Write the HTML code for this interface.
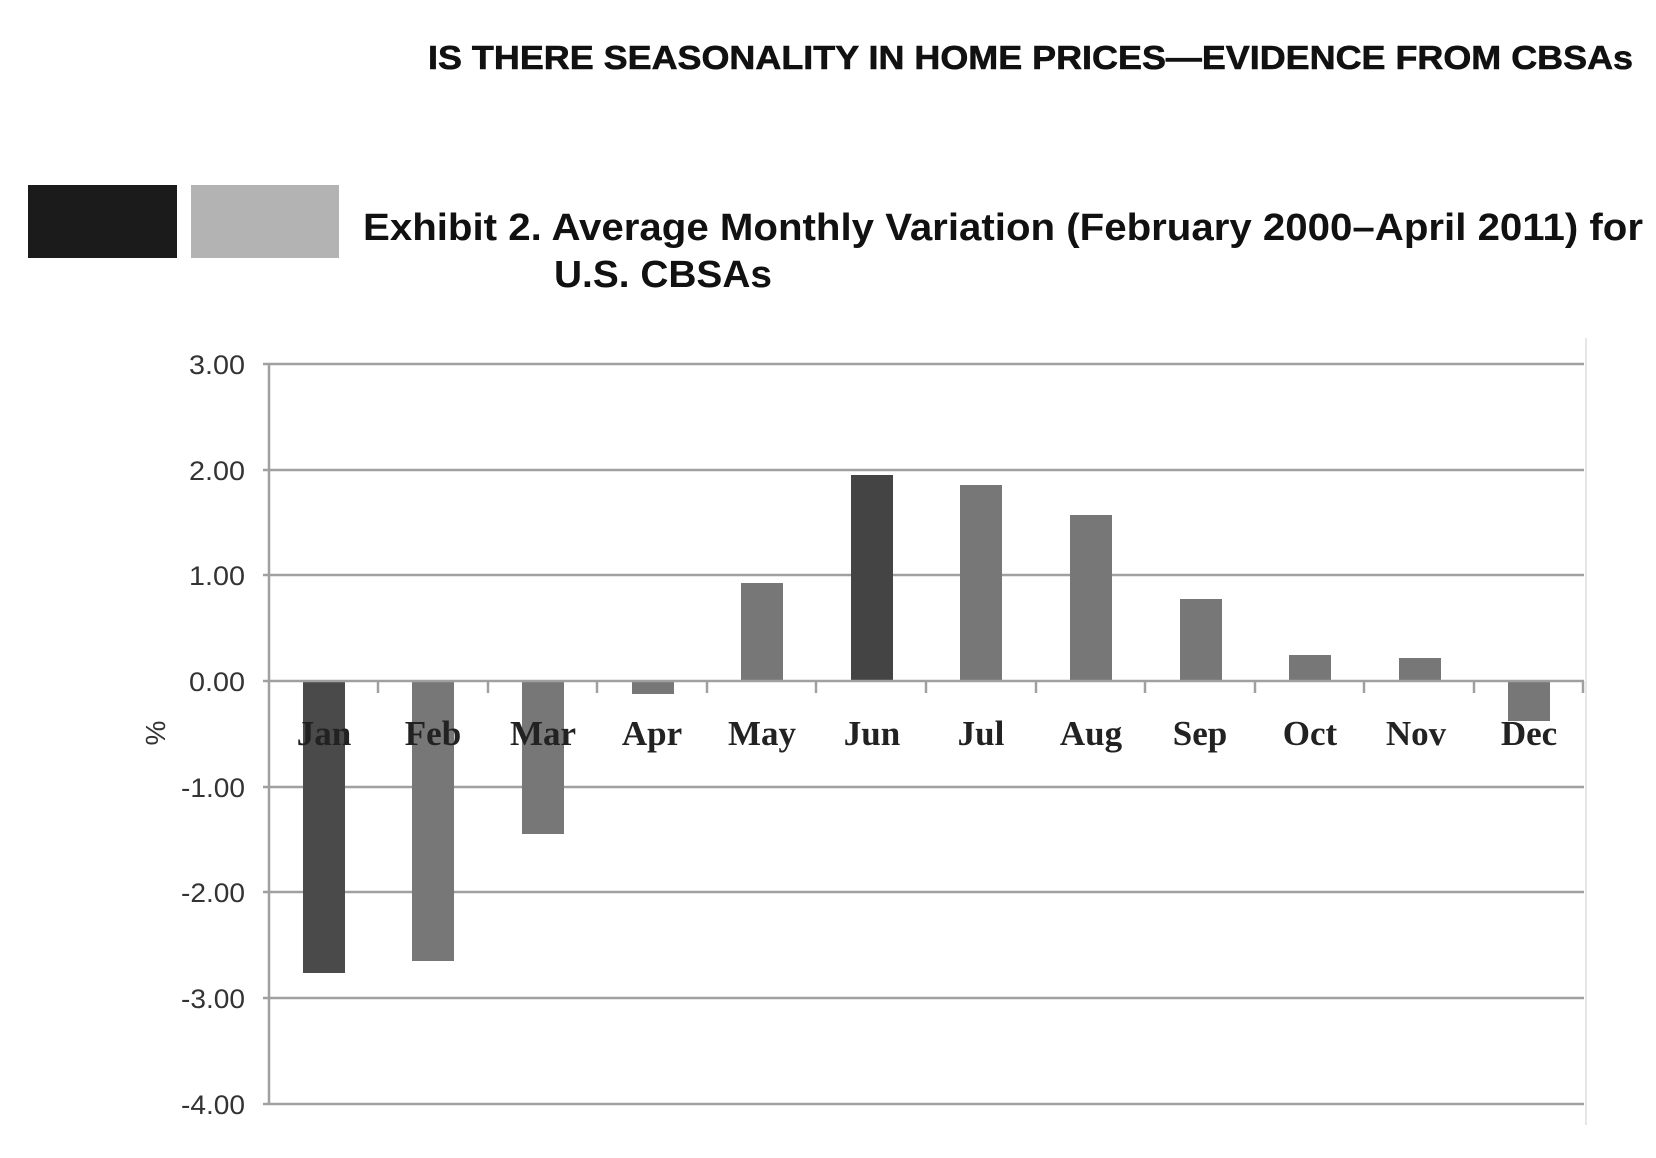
<!DOCTYPE html>
<html><head><meta charset="utf-8"><style>
html,body{margin:0;padding:0;background:#fff;}
svg{display:block;}
</style></head><body>
<svg width="1656" height="1158" viewBox="0 0 1656 1158" xmlns="http://www.w3.org/2000/svg">
<text x="1633" y="69" text-anchor="end" font-family="Liberation Sans, sans-serif" font-weight="bold" font-size="33" fill="#111" stroke="#111" stroke-width="0.6" textLength="1205" lengthAdjust="spacingAndGlyphs">IS THERE SEASONALITY IN HOME PRICES—EVIDENCE FROM CBSAs</text>
<rect x="28" y="185" width="149" height="73" fill="#1b1b1b"/>
<rect x="191" y="185" width="148" height="73" fill="#b3b3b3"/>
<text x="363" y="240" font-family="Liberation Sans, sans-serif" font-weight="bold" font-size="38" fill="#111" textLength="1280" lengthAdjust="spacingAndGlyphs">Exhibit 2. Average Monthly Variation (February 2000–April 2011) for</text>
<text x="554" y="287" font-family="Liberation Sans, sans-serif" font-weight="bold" font-size="38" fill="#111" textLength="218" lengthAdjust="spacingAndGlyphs">U.S. CBSAs</text>
<g stroke="#a0a0a0" stroke-width="2.5">
<line x1="263" y1="364" x2="1584" y2="364"/>
<line x1="263" y1="470" x2="1584" y2="470"/>
<line x1="263" y1="575" x2="1584" y2="575"/>
<line x1="263" y1="787" x2="1584" y2="787"/>
<line x1="263" y1="892" x2="1584" y2="892"/>
<line x1="263" y1="998" x2="1584" y2="998"/>
<line x1="263" y1="1104" x2="1584" y2="1104"/>
<line x1="269" y1="364" x2="269" y2="1104"/>
</g>
<line x1="1586" y1="338" x2="1586" y2="1125" stroke="#ddd" stroke-width="1.5"/>
<g fill="#777">
<rect x="303" y="681" width="42" height="292" fill="#4a4a4a"/>
<rect x="412" y="681" width="42" height="280"/>
<rect x="522" y="681" width="42" height="153"/>
<rect x="632" y="681" width="42" height="13"/>
<rect x="741" y="583" width="42" height="98"/>
<rect x="851" y="475" width="42" height="206" fill="#444"/>
<rect x="960" y="485" width="42" height="196"/>
<rect x="1070" y="515" width="42" height="166"/>
<rect x="1180" y="599" width="42" height="82"/>
<rect x="1289" y="655" width="42" height="26"/>
<rect x="1399" y="658" width="42" height="23"/>
<rect x="1508" y="681" width="42" height="40"/>
</g>
<g stroke="#a0a0a0" stroke-width="2.5">
<line x1="263" y1="681" x2="1584" y2="681"/>
<line x1="378" y1="681" x2="378" y2="693"/><line x1="488" y1="681" x2="488" y2="693"/>
<line x1="597" y1="681" x2="597" y2="693"/><line x1="707" y1="681" x2="707" y2="693"/>
<line x1="816" y1="681" x2="816" y2="693"/><line x1="926" y1="681" x2="926" y2="693"/>
<line x1="1036" y1="681" x2="1036" y2="693"/><line x1="1145" y1="681" x2="1145" y2="693"/>
<line x1="1255" y1="681" x2="1255" y2="693"/><line x1="1364" y1="681" x2="1364" y2="693"/>
<line x1="1474" y1="681" x2="1474" y2="693"/><line x1="1583" y1="681" x2="1583" y2="693"/>
</g>
<g font-family="Liberation Sans Narrow, Liberation Sans, sans-serif" font-size="27" fill="#333" text-anchor="end">
<text x="245" y="374" textLength="56" lengthAdjust="spacingAndGlyphs">3.00</text>
<text x="245" y="480" textLength="56" lengthAdjust="spacingAndGlyphs">2.00</text>
<text x="245" y="585" textLength="56" lengthAdjust="spacingAndGlyphs">1.00</text>
<text x="245" y="691" textLength="56" lengthAdjust="spacingAndGlyphs">0.00</text>
<text x="245" y="797" textLength="64" lengthAdjust="spacingAndGlyphs">-1.00</text>
<text x="245" y="902" textLength="64" lengthAdjust="spacingAndGlyphs">-2.00</text>
<text x="245" y="1008" textLength="64" lengthAdjust="spacingAndGlyphs">-3.00</text>
<text x="245" y="1114" textLength="64" lengthAdjust="spacingAndGlyphs">-4.00</text>
</g>
<text transform="translate(165,733) rotate(-90)" text-anchor="middle" font-family="Liberation Sans, sans-serif" font-size="28" fill="#333">%</text>
<g font-family="Liberation Serif, serif" font-weight="bold" font-size="35" fill="#222" text-anchor="middle">
<text x="324" y="745">Jan</text>
<text x="433" y="745">Feb</text>
<text x="543" y="745">Mar</text>
<text x="652" y="745">Apr</text>
<text x="762" y="745">May</text>
<text x="872" y="745">Jun</text>
<text x="981" y="745">Jul</text>
<text x="1091" y="745">Aug</text>
<text x="1200" y="745">Sep</text>
<text x="1310" y="745">Oct</text>
<text x="1416" y="745">Nov</text>
<text x="1529" y="745">Dec</text>
</g>
</svg>
</body></html>
